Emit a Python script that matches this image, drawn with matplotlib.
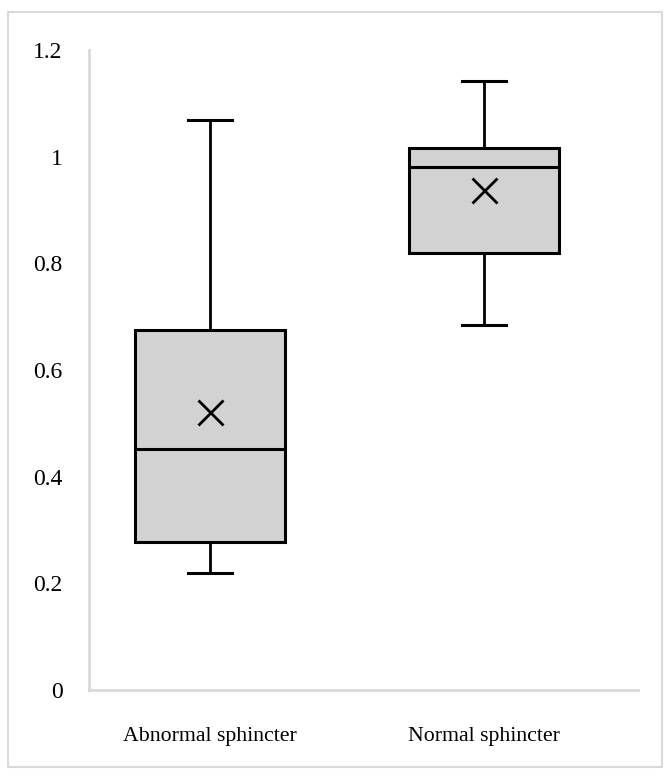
import matplotlib.pyplot as plt
from matplotlib.patches import Rectangle

# -------------------------------
# DATA
# -------------------------------
categories = ['Abnormal sphincter', 'Normal sphincter']
whisker_low = [0.219, 0.684]
q1 = [0.277, 0.819]
median = [0.451, 0.981]
q3 = [0.675, 1.016]
whisker_high = [1.069, 1.142]
mean = [0.521, 0.937]

yticks = [0, 0.2, 0.4, 0.6, 0.8, 1, 1.2]
ytick_labels = ['0', '0.2', '0.4', '0.6', '0.8', '1', '1.2']

stats = []
for i, name in enumerate(categories):
    stats.append({
        'label': name,
        'whislo': whisker_low[i],
        'q1': q1[i],
        'med': median[i],
        'q3': q3[i],
        'whishi': whisker_high[i],
        'mean': mean[i],
        'fliers': [],
    })

plt.rcParams['font.family'] = ['Liberation Serif', 'DejaVu Serif']

fig = plt.figure(figsize=(6.71, 7.79), dpi=100)
ax = fig.add_axes([89 / 671, 1 - 690 / 779, 549 / 671, 640 / 779])

# light grey frame round the whole chart
fig.patches.append(Rectangle((8 / 671, 1 - 767 / 779), 654 / 671, 755 / 779,
                             transform=fig.transFigure, fill=False,
                             edgecolor='#d9d9d9', linewidth=1.5))

ax.bxp(stats, positions=[1, 2], widths=0.547, capwidths=0.16,
       patch_artist=True, showmeans=True, showfliers=False,
       boxprops=dict(facecolor='#d2d2d2', edgecolor='black', linewidth=2.2),
       medianprops=dict(color='black', linewidth=2.2),
       whiskerprops=dict(color='black', linewidth=2.0),
       capprops=dict(color='black', linewidth=2.2),
       meanprops=dict(marker='x', markeredgecolor='black', markersize=18,
                      markeredgewidth=2.0))

ax.set_xlim(0.558, 2.562)
ax.set_ylim(0, 1.2)
ax.set_yticks(yticks)
ax.set_yticklabels(ytick_labels)
ax.set_xticks([1, 2])
ax.set_xticklabels(categories)

for side in ['top', 'right']:
    ax.spines[side].set_visible(False)
for side in ['left', 'bottom']:
    ax.spines[side].set_color('#d9d9d9')
    ax.spines[side].set_linewidth(2.0)

ax.tick_params(axis='both', length=0)
ax.tick_params(axis='x', labelsize=15.7, pad=27)
ax.tick_params(axis='y', labelsize=17, pad=19)

plt.savefig('out.png', dpi=100)
